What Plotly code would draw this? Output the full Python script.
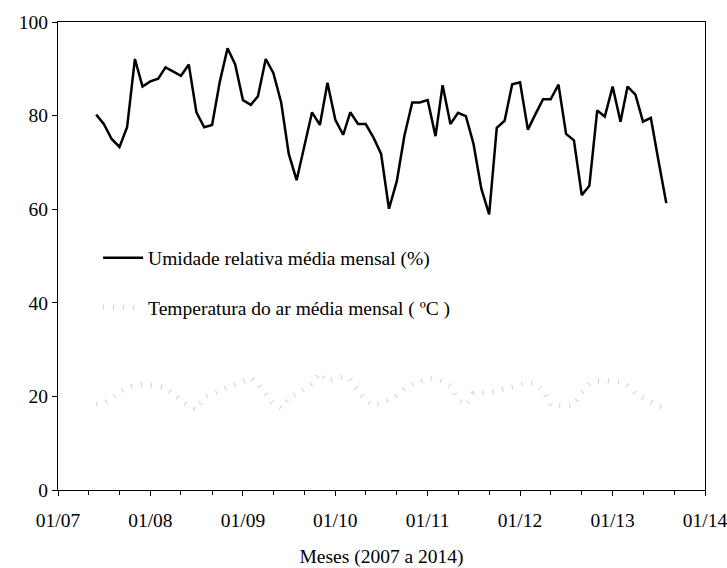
import pandas as pd
import plotly.graph_objects as go

months = pd.date_range("2007-06-01", periods=75, freq="MS")

umidade = [80.2, 78.2, 75.0, 73.3, 77.5, 92.1, 86.2, 87.3, 87.9, 90.3,
           89.4, 88.5, 90.9, 80.7, 77.5, 78.0, 87.1, 94.4, 91.0, 83.3,
           82.3, 84.1, 92.1, 89.1, 82.8, 71.8, 66.2, 73.6, 80.7, 78.0,
           87.0, 79.1, 75.9, 80.7, 78.2, 78.2, 75.3, 71.8, 60.1, 66.0,
           75.7, 82.8, 82.8, 83.3, 75.6, 86.5, 78.2, 80.6, 79.9, 74.0,
           64.4, 58.9, 77.4, 78.9, 86.7, 87.1, 77.0, 80.2, 83.5, 83.5,
           86.6, 76.1, 74.7, 63.0, 65.0, 81.1, 79.8, 86.2, 78.7, 86.2,
           84.5, 78.7, 79.5, 70.4, 61.3]

temperatura = [18.3, 18.6, 19.5, 21.0, 21.8, 22.4, 22.6, 22.5, 22.2, 21.9,
               20.6, 19.2, 17.9, 17.2, 19.8, 20.5, 21.2, 21.9, 22.4, 23.1,
               24.0, 22.6, 20.7, 18.5, 17.5, 19.7, 20.5, 21.5, 22.7, 25.0,
               23.2, 23.7, 24.2, 23.7, 21.5, 19.2, 18.0, 18.5, 19.2, 20.2,
               21.6, 22.5, 23.3, 23.9, 23.8, 23.2, 22.2, 19.4, 18.1, 20.7,
               20.8, 20.8, 21.2, 21.7, 22.2, 22.5, 22.9, 22.8, 21.3, 18.1,
               18.0, 17.9, 18.1, 20.8, 22.5, 23.3, 23.4, 23.1, 23.2, 22.3,
               20.6, 19.7, 18.8, 17.9, 17.5]

year_ticks = ["2007-01-01", "2008-01-01", "2009-01-01", "2010-01-01",
              "2011-01-01", "2012-01-01", "2013-01-01", "2014-01-01"]
year_labels = ["01/07", "01/08", "01/09", "01/10", "01/11", "01/12", "01/13", "01/14"]

FONT = "Liberation Serif, Times New Roman, serif"
FS = 19.5

fig = go.Figure()
fig.add_trace(go.Scatter(
    x=months, y=umidade, mode="lines",
    name="Umidade relativa média mensal (%)",
    line=dict(color="black", width=2.5),
    legendgroup="a",
))
fig.add_trace(go.Scatter(
    x=months, y=temperatura, mode="lines",
    name="Temperatura do ar média mensal ( ºC )",
    line=dict(color="#cfcfcf", width=5, dash="1px,9px"),
    legendgroup="b",
))

fig.update_layout(
    width=727, height=568,
    margin=dict(l=58, r=22, t=22, b=78, autoexpand=False),
    paper_bgcolor="white", plot_bgcolor="white",
    font=dict(family=FONT, size=FS, color="black"),
    showlegend=True,
    legend=dict(x=0.062, y=0.443, xanchor="left", yanchor="middle",
                bgcolor="rgba(0,0,0,0)", font=dict(family=FONT, size=FS),
                tracegroupgap=21, itemwidth=40),
    xaxis=dict(
        type="date", automargin=False,
        range=["2007-01-01", "2014-01-01"],
        tickvals=year_ticks, ticktext=year_labels,
        ticklabeloverflow="allow", ticklabelstandoff=8,
        ticks="outside", ticklen=5, tickcolor="black",
        showline=True, linecolor="black", linewidth=1, mirror=True,
        showgrid=False, zeroline=False,
        minor=dict(ticks="outside", ticklen=4, tickcolor="black",
                   dtick="M4", tick0="2007-01-01", showgrid=False),
        tickfont=dict(family=FONT, size=FS),
        title=dict(text="Meses (2007 a 2014)", font=dict(family=FONT, size=FS), standoff=18),
    ),
    yaxis=dict(
        range=[0, 100], tickvals=[0, 20, 40, 60, 80, 100], automargin=False,
        ticks="outside", ticklen=5, tickcolor="black",
        showline=True, linecolor="black", linewidth=1, mirror=True,
        showgrid=False, zeroline=False,
        tickfont=dict(family=FONT, size=FS),
    ),
)

# remove the browser's default 8px page margin so the figure fills the window
fig.write_html("out.html", config={"displayModeBar": False},
               post_script="document.body.style.margin='0';")
